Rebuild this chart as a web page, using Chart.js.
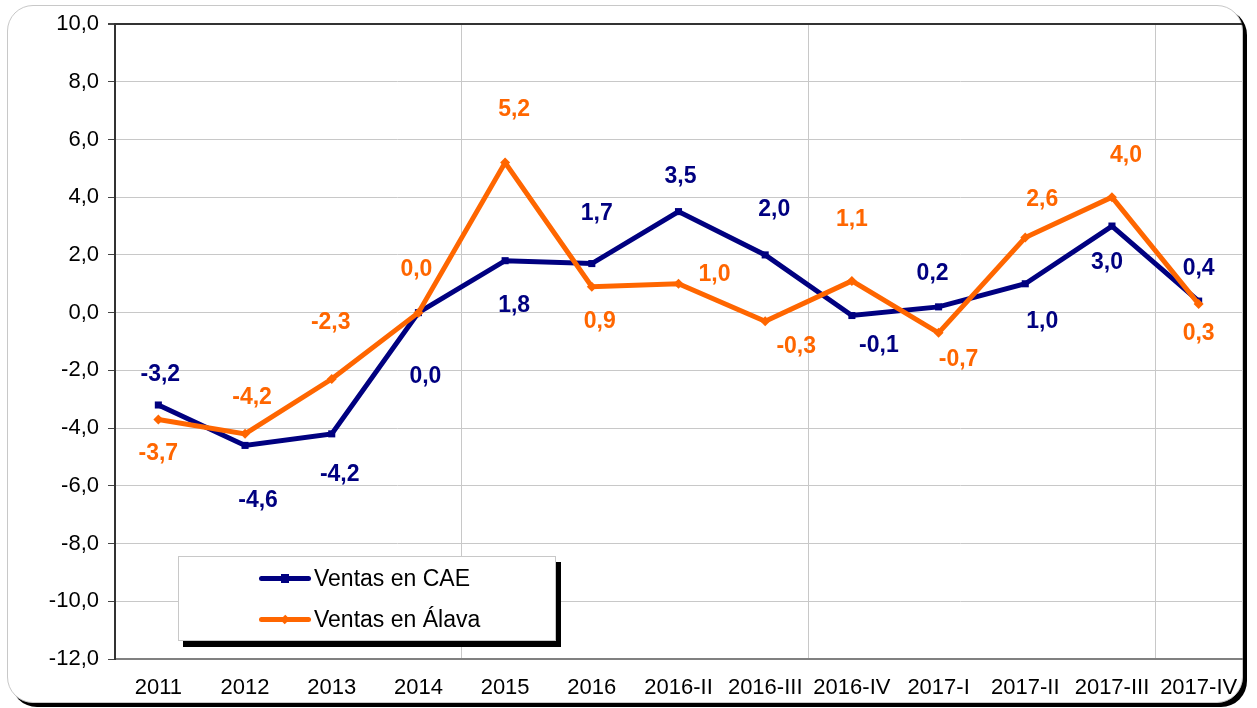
<!DOCTYPE html>
<html lang="es">
<head>
  <meta charset="UTF-8">
  <title>Ventas en CAE y Álava</title>
  <script src="https://cdn.jsdelivr.net/npm/chart.js"></script>
  <style>
    body {
      margin: 0;
      padding: 0;
      background: #ffffff;
      font-family: 'Liberation Sans', Arial, sans-serif;
    }

    .frame {
      position: absolute;
      left: 7px;
      top: 5px;
      width: 1234px;
      height: 696px;
      border: 1px solid #c8c8c8;
      border-radius: 26px;
      box-shadow: 4px 4px 0 #000;
      background: #fff;
    }

    #lineChart {
      position: absolute;
      left: 0;
      top: 0;
    }

    .legend {
      position: absolute;
      left: 178px;
      top: 556px;
      width: 376px;
      height: 83px;
      border: 1px solid #c8c8c8;
      background: #fff;
      box-shadow: 5px 6px 0 #000;
    }

    .legend-item {
      position: absolute;
      left: 80px;
      height: 26px;
      display: flex;
      align-items: center;
      font-size: 23px;
      color: #000;
    }

    .swatch {
      position: relative;
      width: 52px;
      height: 5px;
      border-radius: 3px;
      margin-right: 3px;
    }

    .swatch i {
      position: absolute;
      left: 22px;
      top: -2px;
      width: 8px;
      height: 9px;
    }
  </style>
</head>
<body>

<div class="frame"></div>
<canvas id="lineChart" width="1257" height="708"></canvas>

<div class="legend">
  <div class="legend-item" style="top: 8px;">
    <span class="swatch" style="background: #000080;"><i style="background: #000080;"></i></span>
    <span id="legendCae"></span>
  </div>
  <div class="legend-item" style="top: 49px;">
    <span class="swatch" style="background: #ff6600;"><i style="background: #ff6600; transform: rotate(45deg) scale(0.8);"></i></span>
    <span id="legendAlava"></span>
  </div>
</div>

<script>
  // Data
  const categories = ['2011', '2012', '2013', '2014', '2015', '2016', '2016-II', '2016-III', '2016-IV', '2017-I', '2017-II', '2017-III', '2017-IV'];
  const ventasCae = [-3.2, -4.6, -4.2, 0.0, 1.8, 1.7, 3.5, 2.0, -0.1, 0.2, 1.0, 3.0, 0.4];
  const ventasAlava = [-3.7, -4.2, -2.3, 0.0, 5.2, 0.9, 1.0, -0.3, 1.1, -0.7, 2.6, 4.0, 0.3];
  const seriesNames = ['Ventas en CAE', 'Ventas en Álava'];
  const yTicks = [-12, -10, -8, -6, -4, -2, 0, 2, 4, 6, 8, 10];

  document.getElementById('legendCae').textContent = seriesNames[0];
  document.getElementById('legendAlava').textContent = seriesNames[1];

  // Where each value label sits relative to its point (dx, dy in px)
  const labelPlacement = [
    [[2, -30], [13, 55], [8, 41], [7, 64], [9, 45], [5, -50], [2, -35], [9, -45], [27, 30], [-6, -33], [17, 38], [-5, 37], [0, -32]],
    [[0, 34], [7, -36], [-1, -56], [-2, -43], [9, -53], [8, 35], [36, -9], [31, 25], [0, -61], [20, 27], [17, -38], [14, -42], [0, 30]]
  ];

  const fmt = v => v.toFixed(1).replace('.', ',');

  const valueLabels = {
    id: 'valueLabels',
    afterDatasetsDraw(chart) {
      const ctx = chart.ctx;
      ctx.save();
      ctx.font = "bold 23px 'Liberation Sans', Arial, sans-serif";
      ctx.textAlign = 'center';
      ctx.textBaseline = 'middle';
      chart.data.datasets.forEach((ds, di) => {
        const meta = chart.getDatasetMeta(di);
        ctx.fillStyle = ds.borderColor;
        meta.data.forEach((pt, i) => {
          const off = labelPlacement[di][i];
          ctx.fillText(fmt(ds.data[i]), pt.x + off[0], pt.y + off[1]);
        });
      });
      ctx.restore();
    }
  };

  const tickFont = { family: "'Liberation Sans', Arial, sans-serif", size: 22 };

  new Chart(document.getElementById('lineChart'), {
    type: 'line',
    data: {
      labels: categories,
      datasets: [
        {
          label: seriesNames[0],
          data: ventasCae,
          borderColor: '#000080',
          backgroundColor: '#000080',
          borderWidth: 5,
          pointStyle: 'rect',
          pointRadius: 5,
          pointBorderWidth: 0,
          tension: 0,
          order: 1
        },
        {
          label: seriesNames[1],
          data: ventasAlava,
          borderColor: '#ff6600',
          backgroundColor: '#ff6600',
          borderWidth: 5,
          pointStyle: 'rectRot',
          pointRadius: 5,
          pointBorderWidth: 0,
          tension: 0,
          order: 0
        }
      ]
    },
    options: {
      responsive: false,
      animation: false,
      layout: { padding: { top: 24, right: 15, left: 0, bottom: 0 } },
      plugins: {
        legend: { display: false },
        tooltip: { enabled: false }
      },
      scales: {
        x: {
          type: 'category',
          offset: true,
          afterFit: s => { s.height = 49; },
          grid: {
            offset: true,
            drawTicks: false,
            lineWidth: 1,
            color: c => (c.index !== undefined && c.index > 0 && c.index % 4 === 0) ? '#c8c8c8' : 'transparent'
          },
          border: { color: '#808080', width: 2 },
          ticks: {
            font: tickFont,
            color: '#000',
            padding: 16,
            maxRotation: 0,
            autoSkip: false
          }
        },
        y: {
          min: -12,
          max: 10,
          afterFit: s => { s.width = 115; },
          afterBuildTicks: s => { s.ticks = yTicks.map(v => ({ value: v })); },
          grid: {
            color: c => (c.tick && c.tick.value === 10) ? '#333' : '#c8c8c8',
            lineWidth: c => (c.tick && c.tick.value === 10) ? 2 : 1,
            tickColor: '#444',
            tickLength: 7
          },
          border: { color: '#333', width: 2 },
          ticks: {
            font: tickFont,
            color: '#000',
            padding: 9,
            callback: v => fmt(v)
          }
        }
      }
    },
    plugins: [valueLabels]
  });
</script>

</body>
</html>
